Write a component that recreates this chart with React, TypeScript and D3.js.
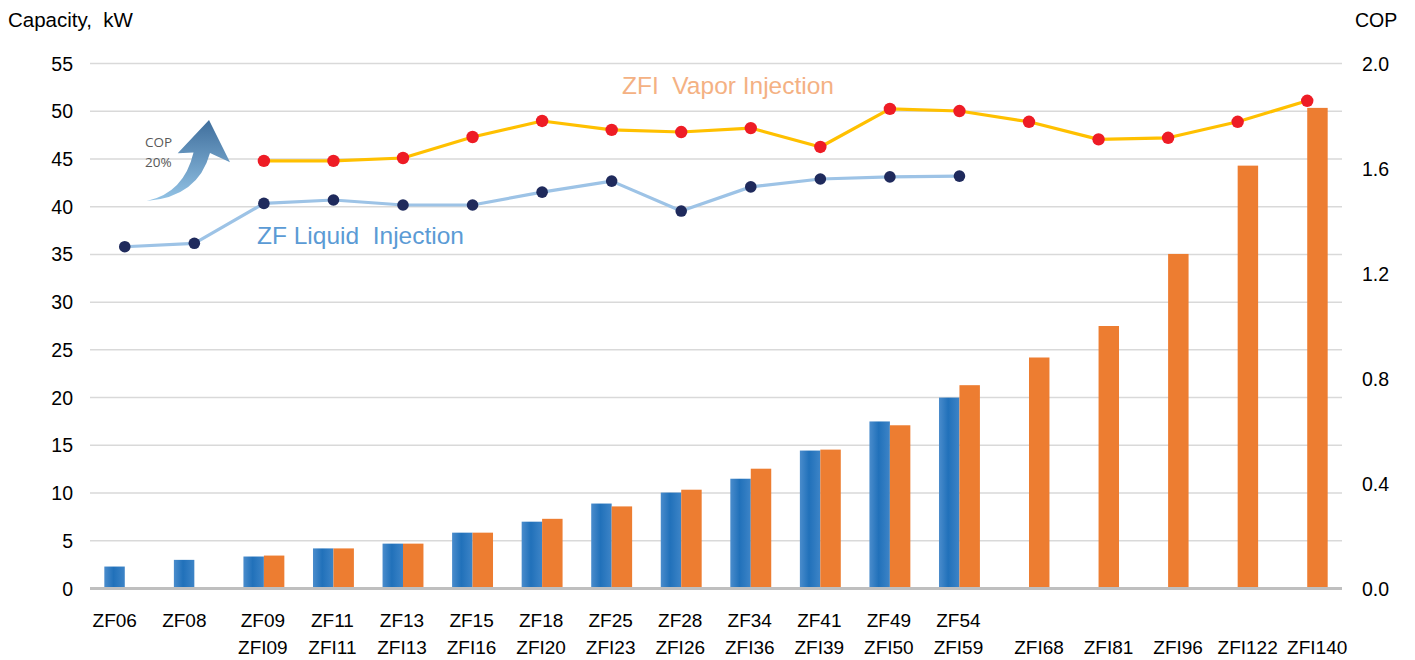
import * as d3 from "d3";
import { useEffect, useRef } from "react";

// подписи категорий (две строки)
const topLabels = ["ZF06", "ZF08", "ZF09", "ZF11", "ZF13", "ZF15", "ZF18", "ZF25", "ZF28", "ZF34", "ZF41", "ZF49", "ZF54", "", "", "", "", ""];
const bottomLabels = ["", "", "ZFI09", "ZFI11", "ZFI13", "ZFI16", "ZFI20", "ZFI23", "ZFI26", "ZFI36", "ZFI39", "ZFI50", "ZFI59", "ZFI68", "ZFI81", "ZFI96", "ZFI122", "ZFI140"];

// мощность, кВт
const zfCapacity = [2.3, 3.0, 3.35, 4.2, 4.7, 5.85, 7.0, 8.9, 10.05, 11.5, 14.45, 17.5, 20.0, null, null, null, null, null];
const zfiCapacity = [null, null, 3.45, 4.2, 4.7, 5.85, 7.3, 8.6, 10.35, 12.55, 14.55, 17.1, 21.3, 24.2, 27.5, 35.05, 44.3, 50.35];

// COP
const zfCop = [1.302, 1.315, 1.467, 1.48, 1.461, 1.461, 1.51, 1.552, 1.438, 1.53, 1.56, 1.568, 1.571, null, null, null, null, null];
const zfiCop = [null, null, 1.629, 1.629, 1.64, 1.72, 1.781, 1.747, 1.739, 1.754, 1.682, 1.827, 1.819, 1.778, 1.711, 1.717, 1.778, 1.858];

const leftTicks = [0, 5, 10, 15, 20, 25, 30, 35, 40, 45, 50, 55];
const rightTicks = [0, 0.4, 0.8, 1.2, 1.6, 2.0];

const FONT = "'Liberation Sans', Arial, sans-serif";

const App = () => {
  const chartRef = useRef(null);
  const width = 1415;
  const height = 660;
  const margin = { top: 63.5, bottom: 71.5, left: 90, right: 73 };

  useEffect(() => {
    const svg = d3.select(chartRef.current);
    svg.selectAll("*").remove();

    const idx = topLabels.map((d, i) => i);
    const x = d3.scaleBand().domain(idx).range([margin.left, width - margin.right]).paddingInner(0).paddingOuter(0);
    const xs = d3.scaleBand().domain(["zf", "zfi"]).range([0, x.bandwidth()]).paddingInner(0).paddingOuter(0.7);
    const y = d3.scaleLinear().domain([0, 55]).range([height - margin.bottom, margin.top]);
    const y2 = d3.scaleLinear().domain([0, 2]).range([height - margin.bottom, margin.top]);
    const cx = (i) => x(i) + x.bandwidth() / 2;

    // градиенты
    const defs = svg.append("defs");
    const gb = defs.append("linearGradient").attr("id", "blueBar").attr("x1", 0).attr("x2", 1).attr("y1", 0).attr("y2", 0);
    gb.append("stop").attr("offset", "0%").attr("stop-color", "#4a8ccc");
    gb.append("stop").attr("offset", "45%").attr("stop-color", "#2171ba");
    gb.append("stop").attr("offset", "100%").attr("stop-color", "#3d84c7");
    const ga = defs.append("linearGradient").attr("id", "arrowGrad").attr("x1", 0).attr("x2", 0).attr("y1", 0).attr("y2", 1);
    ga.append("stop").attr("offset", "0%").attr("stop-color", "#3f6e9c");
    ga.append("stop").attr("offset", "100%").attr("stop-color", "#94c4e6");

    // сетка
    svg.append("g")
      .selectAll("line")
      .data(leftTicks.filter(d => d > 0))
      .enter()
      .append("line")
      .attr("x1", margin.left)
      .attr("x2", width - margin.right)
      .attr("y1", d => y(d))
      .attr("y2", d => y(d))
      .style("stroke", "#d9d9d9")
      .style("stroke-width", 1.5);

    // левая ось
    svg.append("g")
      .selectAll("text")
      .data(leftTicks)
      .enter()
      .append("text")
      .attr("x", 73)
      .attr("y", d => y(d) + 7)
      .attr("text-anchor", "end")
      .style("font-family", FONT)
      .style("font-size", "19.5px")
      .style("fill", "#000")
      .text(d => d);

    // правая ось
    svg.append("g")
      .selectAll("text")
      .data(rightTicks)
      .enter()
      .append("text")
      .attr("x", 1362)
      .attr("y", d => y2(d) + 7)
      .style("font-family", FONT)
      .style("font-size", "19.5px")
      .style("fill", "#000")
      .text(d => d.toFixed(1));

    svg.append("text")
      .attr("x", 8)
      .attr("y", 27)
      .style("font-family", FONT)
      .style("font-size", "20.5px")
      .style("white-space", "pre")
      .text("Capacity,  kW");

    svg.append("text")
      .attr("x", 1355)
      .attr("y", 27)
      .style("font-family", FONT)
      .style("font-size", "19.5px")
      .text("COP");

    // столбцы
    svg.append("g")
      .selectAll("rect")
      .data(idx.filter(i => zfCapacity[i] != null))
      .enter()
      .append("rect")
      .attr("x", i => x(i) + xs("zf"))
      .attr("y", i => y(zfCapacity[i]))
      .attr("width", xs.bandwidth())
      .attr("height", i => y(0) - y(zfCapacity[i]))
      .style("fill", "url(#blueBar)");

    svg.append("g")
      .selectAll("rect")
      .data(idx.filter(i => zfiCapacity[i] != null))
      .enter()
      .append("rect")
      .attr("x", i => x(i) + xs("zfi"))
      .attr("y", i => y(zfiCapacity[i]))
      .attr("width", xs.bandwidth())
      .attr("height", i => y(0) - y(zfiCapacity[i]))
      .style("fill", "#ed7d31");

    // ось X
    svg.append("line")
      .attr("x1", margin.left)
      .attr("x2", width - margin.right)
      .attr("y1", y(0))
      .attr("y2", y(0))
      .style("stroke", "#bfbfbf")
      .style("stroke-width", 3);

    const lab = svg.append("g")
      .style("font-family", FONT)
      .style("font-size", "19px")
      .attr("text-anchor", "middle");
    idx.forEach(i => {
      const single = topLabels[i] === "" || bottomLabels[i] === "";
      if (topLabels[i]) {
        lab.append("text").attr("x", cx(i) + (single ? -10 : -1)).attr("y", 627).text(topLabels[i]);
      }
      if (bottomLabels[i]) {
        lab.append("text").attr("x", cx(i) + (single ? 10 : -1)).attr("y", 654).text(bottomLabels[i]);
      }
    });

    // линии COP
    const drawLine = (vals, stroke, dot, r) => {
      const pts = idx.filter(i => vals[i] != null);
      const line = d3.line().x(i => cx(i)).y(i => y2(vals[i]));
      svg.append("path")
        .datum(pts)
        .attr("d", line)
        .style("fill", "none")
        .style("stroke", stroke)
        .style("stroke-width", 3.2)
        .style("stroke-linejoin", "round");
      svg.append("g")
        .selectAll("circle")
        .data(pts)
        .enter()
        .append("circle")
        .attr("cx", i => cx(i))
        .attr("cy", i => y2(vals[i]))
        .attr("r", r)
        .style("fill", dot);
    };
    drawLine(zfCop, "#9dc3e6", "#1f2a5c", 5.8);
    drawLine(zfiCop, "#ffc000", "#ee1c25", 6.2);

    // подписи серий
    svg.append("text")
      .attr("x", 257)
      .attr("y", 244)
      .style("font-family", FONT)
      .style("font-size", "24.5px")
      .style("fill", "#5b9bd5")
      .style("white-space", "pre")
      .text("ZF Liquid  Injection");

    svg.append("text")
      .attr("x", 622)
      .attr("y", 94)
      .style("font-family", FONT)
      .style("font-size", "24.5px")
      .style("fill", "#f4b183")
      .style("white-space", "pre")
      .text("ZFI  Vapor Injection");

    // стрелка COP 20%
    svg.append("path")
      .attr("d", "M146.7,201 Q198,197 210,153 L230,162.3 L209,120 L177.7,153.3 L193.5,152.5 Q184,193 146.7,201 Z")
      .style("fill", "url(#arrowGrad)");
    svg.append("text")
      .attr("x", 145)
      .attr("y", 147)
      .style("font-family", "'Open Sans', sans-serif")
      .style("font-size", "13.5px")
      .style("fill", "#595959")
      .text("COP");
    svg.append("text")
      .attr("x", 145)
      .attr("y", 166.5)
      .style("font-family", "'Open Sans', sans-serif")
      .style("font-size", "13.5px")
      .style("fill", "#595959")
      .text("20%");
  }, []);

  return (
    <svg ref={chartRef} width={width} height={height} style={{ position: "absolute", left: 0, top: 0, background: "#fff" }}></svg>
  );
};

export default App;
